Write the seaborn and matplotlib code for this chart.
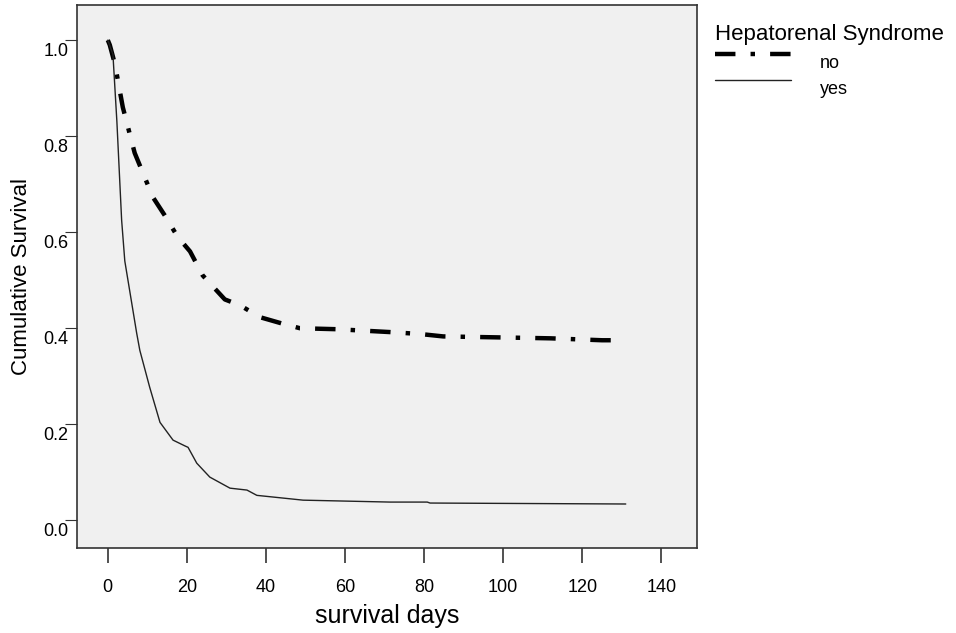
import pandas as pd
import seaborn as sns
import matplotlib.pyplot as plt
from matplotlib.transforms import ScaledTranslation

# Kaplan-Meier style curves
days_no = [0, 0.5, 1.8, 3.8, 6.8, 11.4, 14.4, 17.7, 20.8, 24, 29.6, 33.4, 38.5, 44, 48.6, 57.9, 71.4, 79, 84.8, 98.5, 112, 125, 131]
surv_no = [1.0, 0.99, 0.95, 0.86, 0.765, 0.673, 0.635, 0.59, 0.56, 0.51, 0.46, 0.448, 0.423, 0.41, 0.40, 0.398, 0.392, 0.388, 0.383, 0.381, 0.379, 0.375, 0.375]

days_yes = [0, 1.3, 2.3, 3.5, 4.3, 6.3, 7.3, 8.1, 10.6, 13.2, 16.5, 19.5, 20.3, 22.5, 25.8, 30.9, 35.2, 37.7, 49.4, 71.4, 80.8, 81.5, 131]
surv_yes = [1.0, 0.97, 0.83, 0.625, 0.54, 0.44, 0.39, 0.354, 0.277, 0.204, 0.167, 0.155, 0.152, 0.119, 0.09, 0.067, 0.063, 0.052, 0.042, 0.038, 0.038, 0.036, 0.034]

df = pd.concat([
    pd.DataFrame({'days': days_no, 'surv': surv_no, 'group': 'no'}),
    pd.DataFrame({'days': days_yes, 'surv': surv_yes, 'group': 'yes'}),
])

sns.set_style('ticks')
plt.rcParams['font.family'] = ['Liberation Sans', 'DejaVu Sans']
plt.rcParams['text.color'] = 'black'
plt.rcParams['axes.labelcolor'] = 'black'
plt.rcParams['xtick.color'] = '#333333'
plt.rcParams['ytick.color'] = '#333333'
plt.rcParams['xtick.labelcolor'] = 'black'
plt.rcParams['ytick.labelcolor'] = 'black'

fig = plt.figure(figsize=(9.56, 6.33), dpi=100)
ax = fig.add_axes([0.0805, 0.134, 0.6485, 0.858])
ax.set_facecolor('#f0f0f0')

sns.lineplot(data=df[df['group'] == 'no'], x='days', y='surv', color='black',
             linewidth=3.2, ax=ax, estimator=None, sort=False, label='no')
ax.lines[-1].set_dashes([4.6, 3.4, 1.0, 3.4])
sns.lineplot(data=df[df['group'] == 'yes'], x='days', y='surv', color='#222222',
             linewidth=1.0, ax=ax, estimator=None, sort=False, label='yes')

ax.set_xlim(-7.8, 149)
ax.set_ylim(-0.058, 1.073)
ax.set_xticks([0, 20, 40, 60, 80, 100, 120, 140])
ax.set_yticks([0.0, 0.2, 0.4, 0.6, 0.8, 1.0])
ax.set_yticklabels(['0.0', '0.2', '0.4', '0.6', '0.8', '1.0'])
ax.tick_params(axis='x', length=11, width=1.2, pad=11, labelsize=13)
ax.tick_params(axis='y', length=9, width=0.8, pad=-3, labelsize=13)
# SPSS style: y labels sit a little below their tick
down = ScaledTranslation(0, -0.09, fig.dpi_scale_trans)
for t in ax.get_yticklabels():
    t.set_transform(t.get_transform() + down)
for s in ax.spines.values():
    s.set_color('#333333')
    s.set_linewidth(1.2)

ax.set_xlabel('survival days', fontsize=18, labelpad=6)
ax.set_ylabel('Cumulative Survival', fontsize=16)
ax.yaxis.set_label_coords(-0.073, 0.5)

ax.get_legend().remove()
h, l = ax.get_legend_handles_labels()
leg = fig.legend(h, l, title='Hepatorenal Syndrome', loc='upper left',
                 bbox_to_anchor=(0.735, 0.993), frameon=False, fontsize=13,
                 title_fontsize=16, handlelength=4.2, handletextpad=1.6,
                 labelspacing=0.5, borderpad=0.2)
leg._legend_box.align = 'left'
leg.get_title().set_transform(leg.get_title().get_transform() + ScaledTranslation(0, -0.065, fig.dpi_scale_trans))
for t in leg.get_texts():
    t.set_transform(t.get_transform() + ScaledTranslation(0, -0.08, fig.dpi_scale_trans))

fig.savefig('out.png', dpi=100)
